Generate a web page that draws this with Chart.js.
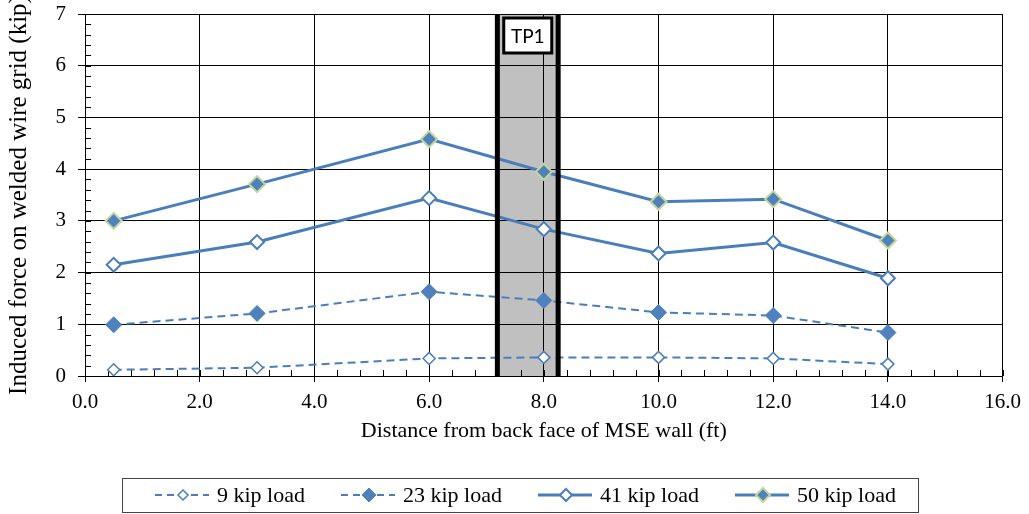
<!DOCTYPE html>
<html>
<head>
<meta charset="utf-8">
<script src="https://cdn.jsdelivr.net/npm/chart.js@4/dist/chart.umd.min.js"></script>
<style>
  body { margin: 0; background: #fff; }
  #chart { display: block; }
</style>
</head>
<body>
<canvas id="chart" width="1029" height="514"></canvas>
<script>
// distances from back face of wall (ft)
const xValues = [0.5, 3, 6, 8, 10, 12, 14];
// induced force (kip) per load case
const load9 = [0.12, 0.16, 0.34, 0.36, 0.36, 0.34, 0.23];
const load23 = [0.99, 1.21, 1.63, 1.46, 1.23, 1.17, 0.84];
const load41 = [2.15, 2.59, 3.44, 2.84, 2.37, 2.58, 1.89];
const load50 = [3.00, 3.71, 4.58, 3.95, 3.37, 3.42, 2.62];
const seriesNames = ['9 kip load', '23 kip load', '41 kip load', '50 kip load'];
const xRange = [0, 16];
const yRange = [0, 7];
const tpBand = [7.19, 8.25];
const tpLabel = 'TP1';

const lineBlue = '#4a7ebb';
const fillBlue = '#4f81bd';
const paleGreen = '#c3d69b';
const serif = "'Liberation Serif', 'Times New Roman', serif";

const toPoints = ys => xValues.map((x, i) => ({ x: x, y: ys[i] }));

const seriesStyle = [
    { dash: [8, 5], width: 2, r: 6, fill: '#fff', stroke: lineBlue, bw: 1.5 },
    { dash: [8, 5], width: 2, r: 8, fill: fillBlue, stroke: fillBlue, bw: 1 },
    { dash: [], width: 3, r: 7, fill: '#fff', stroke: lineBlue, bw: 2 },
    { dash: [], width: 3, r: 8, fill: fillBlue, stroke: paleGreen, bw: 2 }
];

const datasets = [load9, load23, load41, load50].map((vals, i) => {
    const s = seriesStyle[i];
    return {
        label: seriesNames[i],
        data: toPoints(vals),
        borderColor: lineBlue,
        borderWidth: s.width,
        borderDash: s.dash,
        pointStyle: 'rectRot',
        pointRadius: s.r,
        pointBackgroundColor: s.fill,
        pointBorderColor: s.stroke,
        pointBorderWidth: s.bw,
        tension: 0,
        fill: false
    };
});

// gray test-pit band, behind the gridlines
const bandFill = {
    id: 'bandFill',
    beforeDraw(chart) {
        const { ctx, chartArea, scales } = chart;
        const x1 = scales.x.getPixelForValue(tpBand[0]);
        const x2 = scales.x.getPixelForValue(tpBand[1]);
        ctx.save();
        ctx.fillStyle = '#c0c0c0';
        ctx.fillRect(x1, chartArea.top, x2 - x1, chartArea.bottom - chartArea.top);
        ctx.restore();
    },
    afterDatasetsDraw(chart) {
        const { ctx, chartArea, scales } = chart;
        const x1 = scales.x.getPixelForValue(tpBand[0]);
        const x2 = scales.x.getPixelForValue(tpBand[1]);
        ctx.save();
        ctx.strokeStyle = '#000';
        ctx.lineWidth = 5;
        [x1, x2].forEach(x => {
            ctx.beginPath();
            ctx.moveTo(x, chartArea.top);
            ctx.lineTo(x, chartArea.bottom);
            ctx.stroke();
        });
        // label box
        const cx = (x1 + x2) / 2;
        const bw = 48, bh = 35, by = chartArea.top + 4;
        ctx.fillStyle = '#fff';
        ctx.fillRect(cx - bw / 2, by, bw, bh);
        ctx.lineWidth = 3;
        ctx.strokeRect(cx - bw / 2, by, bw, bh);
        ctx.fillStyle = '#000';
        ctx.font = "19px Lato, 'Open Sans', sans-serif";
        ctx.textAlign = 'center';
        ctx.textBaseline = 'middle';
        ctx.fillText(tpLabel, cx, by + bh / 2 + 1);
        ctx.restore();
    }
};

// small inside minor ticks along both axes
const minorTicks = {
    id: 'minorTicks',
    beforeDatasetsDraw(chart) {
        const { ctx, chartArea, scales } = chart;
        ctx.save();
        ctx.strokeStyle = '#000';
        ctx.lineWidth = 1;
        ctx.beginPath();
        for (let v = xRange[0]; v <= xRange[1] + 1e-9; v += 0.4) {
            const px = Math.round(scales.x.getPixelForValue(v)) + 0.5;
            ctx.moveTo(px, chartArea.bottom);
            ctx.lineTo(px, chartArea.bottom - 6);
        }
        for (let v = yRange[0]; v <= yRange[1] + 1e-9; v += 0.2) {
            const py = Math.round(scales.y.getPixelForValue(v)) + 0.5;
            ctx.moveTo(chartArea.left, py);
            ctx.lineTo(chartArea.left + 6, py);
        }
        ctx.stroke();
        ctx.restore();
    }
};

// boxed legend under the axis title
const boxLegend = {
    id: 'boxLegend',
    afterDraw(chart) {
        const { ctx } = chart;
        const top = 478, bottom = 512, left = 122, right = 918;
        const cy = (top + bottom) / 2;
        ctx.save();
        ctx.strokeStyle = '#444';
        ctx.lineWidth = 1;
        ctx.strokeRect(left + 0.5, top + 0.5, right - left, bottom - top);
        ctx.font = '22px ' + serif;
        ctx.textBaseline = 'middle';
        ctx.textAlign = 'left';
        let x = 155;
        chart.data.datasets.forEach((ds, i) => {
            const s = seriesStyle[i];
            ctx.strokeStyle = lineBlue;
            ctx.lineWidth = s.width;
            ctx.setLineDash(s.dash.length ? [7, 5] : []);
            ctx.beginPath();
            ctx.moveTo(x, cy);
            ctx.lineTo(x + 54, cy);
            ctx.stroke();
            ctx.setLineDash([]);
            ctx.fillStyle = s.fill;
            ctx.strokeStyle = s.stroke;
            ctx.lineWidth = s.bw;
            ctx.beginPath();
            const r = s.r - 1;
            ctx.moveTo(x + 28 - r, cy);
            ctx.lineTo(x + 28, cy - r);
            ctx.lineTo(x + 28 + r, cy);
            ctx.lineTo(x + 28, cy + r);
            ctx.closePath();
            ctx.fill();
            ctx.stroke();
            ctx.fillStyle = '#000';
            ctx.fillText(ds.label, x + 62, cy + 1);
            x += 62 + ctx.measureText(ds.label).width + 36;
        });
        ctx.restore();
    }
};

new Chart(document.getElementById('chart'), {
    type: 'line',
    data: { datasets: datasets },
    options: {
        responsive: false,
        animation: false,
        layout: { padding: { top: 14, right: 25, bottom: 66, left: 0 } },
        plugins: {
            legend: { display: false },
            tooltip: { enabled: false }
        },
        scales: {
            x: {
                type: 'linear',
                min: xRange[0],
                max: xRange[1],
                afterFit: scale => { scale.height = 72; },
                ticks: {
                    stepSize: 2,
                    color: '#000',
                    padding: 8,
                    font: { family: serif, size: 21 },
                    callback: v => v.toFixed(1)
                },
                grid: { color: '#000', lineWidth: 1, tickLength: 6 },
                border: { color: '#000', width: 1 },
                title: {
                    display: true,
                    text: 'Distance from back face of MSE wall (ft)',
                    color: '#000',
                    font: { family: serif, size: 22 },
                    padding: { top: 0, bottom: 4 }
                }
            },
            y: {
                min: yRange[0],
                max: yRange[1],
                afterFit: scale => {
                    scale.width = 85;
                    scale.paddingTop = 0;
                    scale.paddingBottom = 0;
                },
                ticks: {
                    stepSize: 1,
                    color: '#000',
                    padding: 12,
                    font: { family: serif, size: 21 }
                },
                grid: { color: '#000', lineWidth: 1, tickLength: 7 },
                border: { color: '#000', width: 1 },
                title: {
                    display: true,
                    text: 'Induced force on welded wire grid (kip)',
                    color: '#000',
                    font: { family: serif, size: 25 },
                    padding: { top: 4, bottom: 0 }
                }
            }
        }
    },
    plugins: [bandFill, minorTicks, boxLegend]
});
</script>
</body>
</html>
